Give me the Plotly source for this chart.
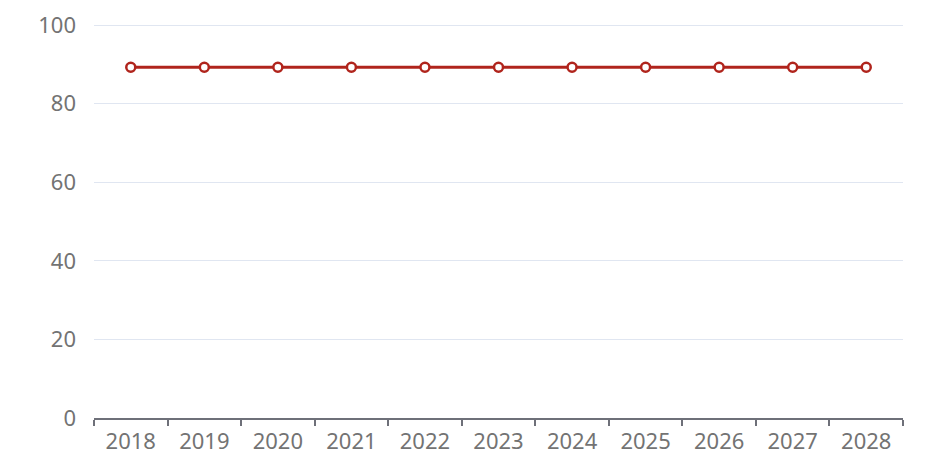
import plotly.graph_objects as go

years = ["2018", "2019", "2020", "2021", "2022", "2023", "2024", "2025", "2026", "2027", "2028"]
values = [89.3, 89.3, 89.3, 89.3, 89.3, 89.3, 89.3, 89.3, 89.3, 89.3, 89.3]
y_ticks = [0, 20, 40, 60, 80, 100]

fig = go.Figure()
fig.add_trace(go.Scatter(
    x=years, y=values, mode="lines+markers",
    line=dict(color="#b0241c", width=3),
    marker=dict(symbol="circle", size=9, color="white", line=dict(color="#b0241c", width=2.5)),
    showlegend=False,
))

font_family = "Noto Sans, Open Sans, DejaVu Sans, sans-serif"
label_color = "#737373"
fig.update_layout(
    width=935, height=460,
    margin=dict(l=86, r=40, t=16, b=50),
    plot_bgcolor="white", paper_bgcolor="white",
    font=dict(family=font_family, size=22, color=label_color),
    xaxis=dict(
        type="category", range=[-0.5, 10.5], automargin=False,
        showline=True, linecolor="#6e7079", linewidth=1.5,
        ticks="outside", tickson="boundaries", ticklen=6, tickcolor="#6e7079", tickwidth=1.5,
        showgrid=False, zeroline=False,
        tickfont=dict(size=22, color=label_color),
        ticklabelstandoff=3,
    ),
    yaxis=dict(
        range=[0, 100.3], tickvals=y_ticks, automargin=False,
        showgrid=True, gridcolor="#e0e6f1", gridwidth=1,
        zeroline=False, showline=False, ticks="",
        tickfont=dict(size=22, color=label_color),
        ticklabelstandoff=17,
    ),
)
fig.write_html("out.html")
